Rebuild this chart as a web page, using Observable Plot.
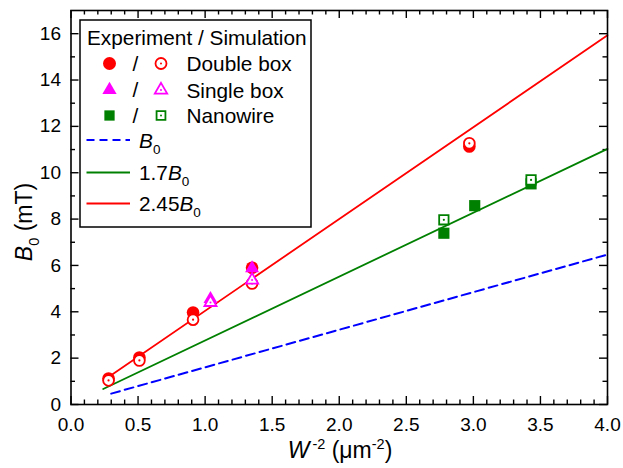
<!DOCTYPE html>
<html><head><meta charset="utf-8">
<script src="https://cdn.jsdelivr.net/npm/d3@7"></script>
<script src="https://cdn.jsdelivr.net/npm/@observablehq/plot@0.6"></script>
<style>
body{margin:0;background:#fff;}
#chart svg{display:block;}
</style>
</head><body><div id="chart"></div>
<script>
// ---- data ----
const xTicks = [0.0, 0.5, 1.0, 1.5, 2.0, 2.5, 3.0, 3.5, 4.0];
const yTicks = [0, 2, 4, 6, 8, 10, 12, 14, 16];

const doubleExpX = [0.28, 0.51, 0.91, 1.35, 2.97];
const doubleExpY = [1.12, 2.03, 3.97, 5.90, 11.13];
const doubleSimX = [0.28, 0.51, 0.91, 1.35, 2.97];
const doubleSimY = [1.04, 1.90, 3.66, 5.22, 11.27];

const singleExpX = [1.04, 1.35];
const singleExpY = [4.55, 5.88];
const singleSimX = [1.04, 1.35];
const singleSimY = [4.40, 5.37];

const wireExpX = [2.78, 3.01, 3.43];
const wireExpY = [7.39, 8.58, 9.52];
const wireSimX = [2.78, 3.43];
const wireSimY = [7.97, 9.69];

const b0X = [0.30, 4.0],  b0Y = [0.47, 6.47];
const g17X = [0.24, 4.0], g17Y = [0.67, 11.03];
const r245X = [0.25, 4.0], r245Y = [1.07, 15.93];

// ---- build tables ----
const pts = (xs, ys) => xs.map((x, i) => ({x, y: ys[i]}));
const W = 623, H = 468, mL = 70.5, mR = 16, mT = 10, mB = 64;
const innerH = H - mT - mB, innerW = W - mL - mR;
const xMinor = d3.range(0, 41).map(i => i / 10).filter(v => !xTicks.some(t => Math.abs(t - v) < 1e-9));
const yMinor = d3.range(1, 17, 2);
const MAJ = 8, MIN = 4.5, TW = 1.4;
const FONT = "Arial, 'Liberation Sans', Helvetica, sans-serif";

const RED = "#ff0000", MAG = "#ff00ff", GRN = "#008000", BLU = "#0000ff";
const SW = 1.8;

function openMarks(data, symbol, r, color, dotR) {
  return [
    Plot.dot(data, {x: "x", y: "y", symbol, r, stroke: color, fill: "white", strokeWidth: SW}),
    Plot.dot(data, {x: "x", y: "y", symbol: "circle", r: dotR, fill: color})
  ];
}

const plot = Plot.plot({
  width: W, height: H,
  marginLeft: mL, marginRight: mR, marginTop: mT, marginBottom: mB,
  style: {fontFamily: FONT, background: "white", color: "black"},
  x: {domain: [0, 4]},
  y: {domain: [0, 17]},
  marks: [
    // inward ticks on all four sides
    Plot.ruleX(xTicks, {stroke: "black", strokeWidth: TW, insetTop: innerH - MAJ}),
    Plot.ruleX(xMinor, {stroke: "black", strokeWidth: TW, insetTop: innerH - MIN}),
    Plot.ruleX(xTicks, {stroke: "black", strokeWidth: TW, insetBottom: innerH - MAJ}),
    Plot.ruleX(xMinor, {stroke: "black", strokeWidth: TW, insetBottom: innerH - MIN}),
    Plot.ruleY(yTicks, {stroke: "black", strokeWidth: TW, insetRight: innerW - MAJ}),
    Plot.ruleY(yMinor, {stroke: "black", strokeWidth: TW, insetRight: innerW - MIN}),
    Plot.ruleY(yTicks, {stroke: "black", strokeWidth: TW, insetLeft: innerW - MAJ}),
    Plot.ruleY(yMinor, {stroke: "black", strokeWidth: TW, insetLeft: innerW - MIN}),
    Plot.axisX(xTicks, {tickSize: 0, tickPadding: 13, fontSize: 19, tickFormat: d3.format(".1f"), label: null}),
    Plot.axisY(yTicks, {tickSize: 0, tickPadding: 10, fontSize: 19, tickFormat: d3.format("d"), label: null}),
    // model lines
    Plot.line(pts(b0X, b0Y), {x: "x", y: "y", stroke: BLU, strokeWidth: 2, strokeDasharray: "9,5"}),
    Plot.line(pts(g17X, g17Y), {x: "x", y: "y", stroke: GRN, strokeWidth: SW}),
    Plot.line(pts(r245X, r245Y), {x: "x", y: "y", stroke: RED, strokeWidth: SW}),
    // double box
    Plot.dot(pts(doubleExpX, doubleExpY), {x: "x", y: "y", symbol: "circle", r: 6.3, fill: RED}),
    ...openMarks(pts(doubleSimX, doubleSimY), "circle", 5.4, RED, 1.1),
    // single box
    Plot.dot(pts(singleExpX, singleExpY), {x: "x", y: "y", symbol: "triangle", r: 5.2, fill: MAG}),
    ...openMarks(pts(singleSimX, singleSimY), "triangle", 4.5, MAG, 1.0),
    // nanowire
    Plot.dot(pts(wireExpX, wireExpY), {x: "x", y: "y", symbol: "square", r: 6.3, fill: GRN}),
    ...openMarks(pts(wireSimX, wireSimY), "square", 5.3, GRN, 1.1),
    Plot.frame({stroke: "black", strokeWidth: 1.6})
  ]
});
document.getElementById("chart").appendChild(plot);

// ---- axis titles and legend (layout) ----
const svg = d3.select(plot);
const g = svg.append("g").attr("font-family", FONT).attr("fill", "black").attr("text-anchor", "start");

// x title
const xt = g.append("text").attr("x", 340).attr("y", 458).attr("text-anchor", "middle").attr("font-size", 23);
xt.append("tspan").attr("font-style", "italic").text("W");
xt.append("tspan").attr("font-size", 14.5).attr("dy", -9).attr("dx", 3).text("-2");
xt.append("tspan").attr("dy", 9).text(" (\u03bcm");
xt.append("tspan").attr("font-size", 14.5).attr("dy", -9).text("-2");
xt.append("tspan").attr("dy", 9).text(")");

// y title
const yt = g.append("text").attr("transform", "translate(32,222) rotate(-90)").attr("text-anchor", "middle").attr("font-size", 23);
yt.append("tspan").attr("font-style", "italic").text("B");
yt.append("tspan").attr("font-size", 14.5).attr("dy", 7).text("0");
yt.append("tspan").attr("dy", -7).text(" (mT)");

// legend
const lg = g.append("g").attr("text-anchor", "start");
lg.append("rect").attr("x", 80).attr("y", 20).attr("width", 231).attr("height", 207)
  .attr("fill", "white").attr("stroke", "black").attr("stroke-width", 1.5);
lg.append("text").attr("x", 87).attr("y", 45).attr("font-size", 20.8).text("Experiment / Simulation");

const symMap = {circle: d3.symbolCircle, triangle: d3.symbolTriangle, square: d3.symbolSquare};
function sym(type, r, cx, cy, color, open) {
  const p = lg.append("path").attr("d", d3.symbol(symMap[type], Math.PI * r * r)())
    .attr("transform", `translate(${cx},${cy})`);
  if (open) {
    p.attr("fill", "white").attr("stroke", color).attr("stroke-width", SW);
    lg.append("circle").attr("cx", cx).attr("cy", cy).attr("r", 1.0).attr("fill", color);
  } else p.attr("fill", color);
}
const rows = [
  {type: "circle", rf: 6.5, ro: 5.5, color: RED, label: "Double box", cy: 63.5},
  {type: "triangle", rf: 5.3, ro: 4.6, color: MAG, label: "Single box", cy: 90},
  {type: "square", rf: 5.8, ro: 5.0, color: GRN, label: "Nanowire", cy: 115.5}
];
rows.forEach(r => {
  sym(r.type, r.rf, 109.5, r.cy, r.color, false);
  lg.append("text").attr("x", 135.5).attr("y", r.cy + 7).attr("text-anchor", "middle").attr("font-size", 20.8).text("/");
  sym(r.type, r.ro, 161, r.cy, r.color, true);
  lg.append("text").attr("x", 186.5).attr("y", r.cy + 7.5).attr("font-size", 20.8).text(r.label);
});
const lineRows = [
  {color: BLU, dash: "8,5", pre: "", cy: 140},
  {color: GRN, dash: null, pre: "1.7", cy: 172.5},
  {color: RED, dash: null, pre: "2.45", cy: 203.5}
];
lineRows.forEach(r => {
  lg.append("line").attr("x1", 86.5).attr("x2", 130).attr("y1", r.cy).attr("y2", r.cy)
    .attr("stroke", r.color).attr("stroke-width", SW).attr("stroke-dasharray", r.dash);
  const t = lg.append("text").attr("x", 139).attr("y", r.cy + 7.5).attr("font-size", 20.8);
  if (r.pre) t.append("tspan").text(r.pre);
  t.append("tspan").attr("font-style", "italic").text("B");
  t.append("tspan").attr("font-size", 13.5).attr("dy", 6).text("0");
});
</script>
</body></html>
